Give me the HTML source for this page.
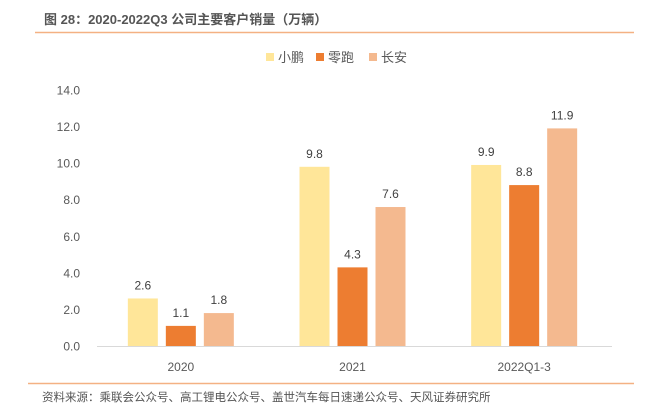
<!DOCTYPE html>
<html><head><meta charset="utf-8"><style>
body{margin:0;background:#fff;}
svg{display:block;font-family:"Liberation Sans","Noto Sans CJK SC",sans-serif;}
</style></head><body>
<svg width="647" height="407" viewBox="0 0 647 407">
<text x="44" y="24" font-size="13" font-weight="bold" fill="#555">图 28：2020-2022Q3 公司主要客户销量（万辆）</text>
<line x1="35" y1="32.5" x2="634" y2="32.5" stroke="#f4b183" stroke-width="1.5"/>
<g id="legend"></g>
<g id="axes"></g>
<g id="bars"></g>
<line x1="28" y1="383.5" x2="634" y2="383.5" stroke="#f4b183" stroke-width="1.5"/>
<text x="42" y="401" font-size="11.5" fill="#555">资料来源：乘联会公众号、高工锂电公众号、盖世汽车每日速递公众号、天风证券研究所</text>
</svg>
<script>
const categories=["2020","2021","2022Q1-3"];
const seriesNames=["小鹏","零跑","长安"];
const xiaopeng=[2.6,9.8,9.9];
const leapmotor=[1.1,4.3,8.8];
const changan=[1.8,7.6,11.9];
const yTicks=["0.0","2.0","4.0","6.0","8.0","10.0","12.0","14.0"];
const colors=["#ffe699","#ed7d31","#f4b98f"];
const NS="http://www.w3.org/2000/svg";
const x0=97,x1=612,yBase=346,yTop=90,yMax=14;
const band=(x1-x0)/categories.length;
const yS=v=>yBase-(v/yMax)*(yBase-yTop);
const xC=i=>x0+band*(i+0.5)-2;
function mk(tag,attrs,parent,text){const e=document.createElementNS(NS,tag);for(const k in attrs)e.setAttribute(k,attrs[k]);if(text!==undefined)e.textContent=text;parent.appendChild(e);return e;}
const axes=document.getElementById('axes'),bars=document.getElementById('bars'),leg=document.getElementById('legend');
yTicks.forEach(t=>{const el=mk('text',{x:80,y:yS(parseFloat(t))+4.5,'font-size':12,fill:'#595959','text-anchor':'end'},axes,t);

});
const base=mk('line',{x1:x0,y1:yBase+0.5,x2:x1,y2:yBase+0.5,stroke:'#d9d9d9','stroke-width':1},axes);


categories.forEach((c,i)=>{const el=mk('text',{x:xC(i),y:371,'font-size':12,fill:'#595959','text-anchor':'middle'},axes,c);

});
const series=[xiaopeng,leapmotor,changan];
const bw=30,off=38;
series.forEach((s,si)=>{s.forEach((v,i)=>{const cx=xC(i)+(si-1)*off;
const r=mk('rect',{x:cx-bw/2,y:yS(v),width:bw,height:yBase-yS(v),fill:colors[si]},bars);


const t=mk('text',{x:cx,y:yS(v)-9,'font-size':12,fill:'#404040','text-anchor':'middle'},bars,v.toFixed(1));

});});
const lx=[266,316,369];
seriesNames.forEach((n,i)=>{const r=mk('rect',{x:lx[i],y:53,width:8,height:8,fill:colors[i]},leg);


const t=mk('text',{x:lx[i]+12,y:62,'font-size':13,fill:'#595959'},leg,n);

});
</script>
</body></html>
